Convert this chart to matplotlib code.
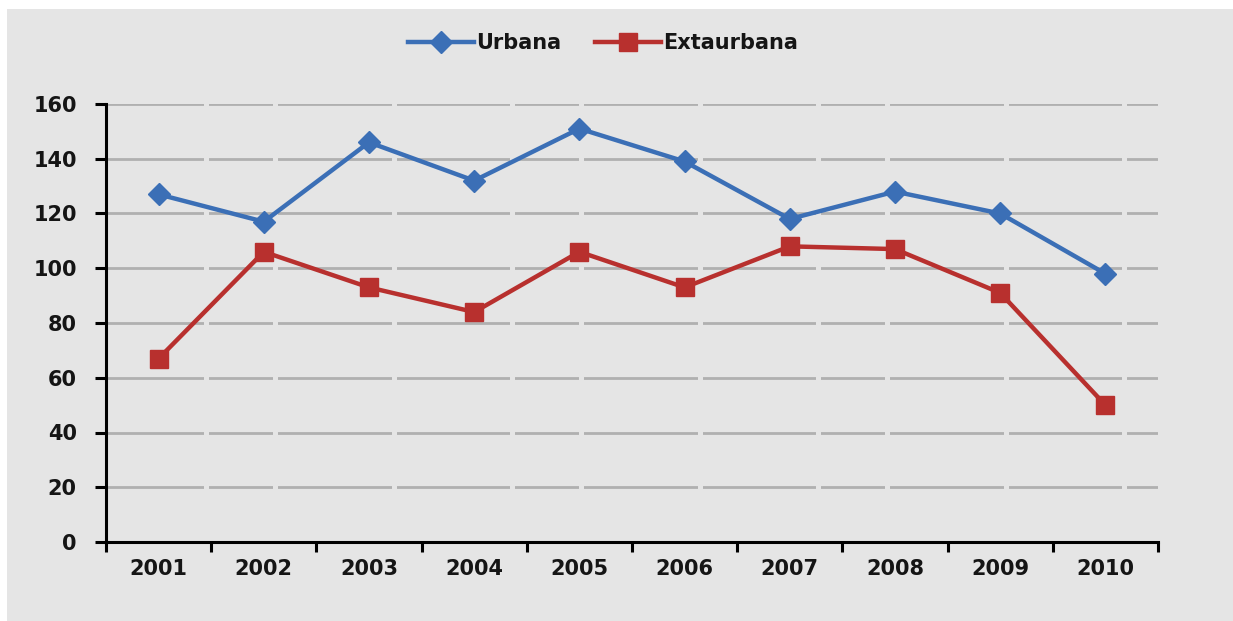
import matplotlib
matplotlib.use("Agg")
import matplotlib.pyplot as plt
from matplotlib.patches import Rectangle

years = ["2001", "2002", "2003", "2004", "2005", "2006", "2007", "2008", "2009", "2010"]
urbana = [127, 117, 146, 132, 151, 139, 118, 128, 120, 98]
extaurbana = [67, 106, 93, 84, 106, 93, 108, 107, 91, 50]
y_ticks = [0, 20, 40, 60, 80, 100, 120, 140, 160]

BLUE = "#3b6fb6"
RED = "#b8302e"
PANEL = "#e5e5e5"
GRID = "#b0b0b0"

W, H, DPI = 1233, 621, 100
plt.rcParams["lines.scale_dashes"] = False
plt.rcParams["font.family"] = ["DejaVu Sans"]

fig = plt.figure(figsize=(W / DPI, H / DPI), dpi=DPI, facecolor="white")

# grey chart area with a thin white margin on the top and left
fig.patches.append(Rectangle((7 / W, 0), 1, 1 - 9 / H, transform=fig.transFigure,
                             facecolor=PANEL, edgecolor="none", zorder=-10))

ax = fig.add_axes([106 / W, 1 - 542 / H, (1158 - 106) / W, (542 - 104) / H])
ax.set_zorder(1)
ax.patch.set_alpha(0)

x = list(range(len(years)))
ax.set_xlim(-0.5, len(years) - 0.5)
ax.set_ylim(0, 160)

# long-dash gridlines (pattern lengths given in pixels, converted to points)
px = 72 / DPI
dash_seq = [114 * px, 5 * px, 113 * px, 5 * px, 64 * px, 5 * px]
for v in y_ticks[1:]:
    ax.axhline(v, color=GRID, lw=2.0, linestyle=(134.5 * px, dash_seq), zorder=1)

ax.plot(x, urbana, color=BLUE, lw=3.2, marker="D", ms=11, mec=BLUE, mfc=BLUE,
        label="Urbana", zorder=3)
ax.plot(x, extaurbana, color=RED, lw=3.2, marker="s", ms=13, mec=RED, mfc=RED,
        label="Extaurbana", zorder=3)

for side in ("top", "right"):
    ax.spines[side].set_visible(False)
for side in ("left", "bottom"):
    ax.spines[side].set_linewidth(2.2)
    ax.spines[side].set_color("black")

ax.set_yticks(y_ticks)
ax.set_yticklabels([str(v) for v in y_ticks])
ax.set_xticks([i - 0.5 for i in range(len(years) + 1)], minor=False)
ax.set_xticklabels([""] * (len(years) + 1))
ax.set_xticks(x, minor=True)
ax.set_xticklabels(years, minor=True)
ax.tick_params(axis="x", which="major", direction="out", length=7, width=2.2, color="black")
ax.tick_params(axis="x", which="minor", length=0, pad=12, labelsize=15)
ax.tick_params(axis="y", direction="out", length=8, width=2.2, color="black",
               pad=13, labelsize=15)
for lbl in ax.get_xticklabels(minor=True) + ax.get_yticklabels():
    lbl.set_fontweight("bold")
    lbl.set_color("#151515")

leg = fig.legend(loc="center", bbox_to_anchor=(603 / W, 1 - 43 / H), ncol=2,
                 frameon=False, handlelength=3.2, handletextpad=0.1,
                 columnspacing=1.6, prop={"weight": "bold", "size": 15})
for t in leg.get_texts():
    t.set_color("#151515")

fig.savefig("out.png", dpi=DPI, facecolor="white")
